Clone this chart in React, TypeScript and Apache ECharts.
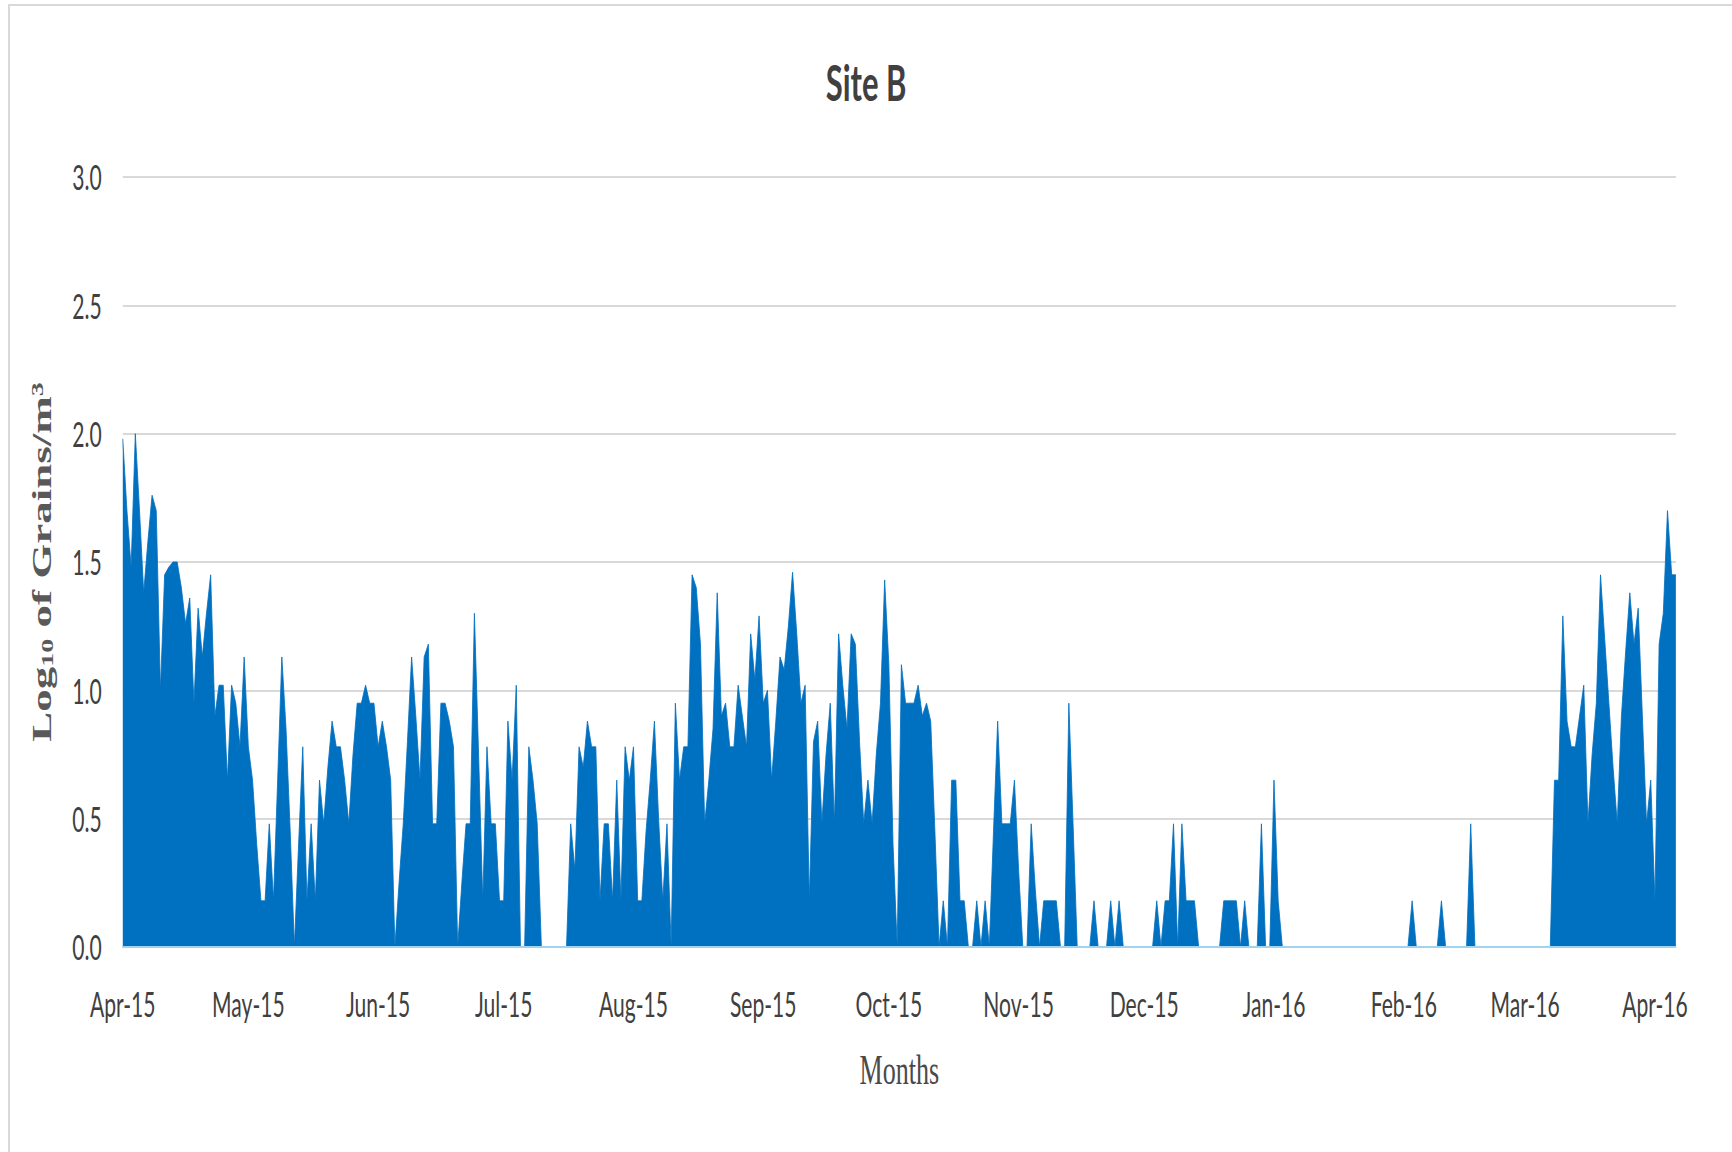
import React, { useEffect, useRef } from "react";
import * as echarts from "echarts";

// Daily log10(grains/m3) values, Site B, 1 Apr 2015 – 6 Apr 2016
const apr15 = [1.98, 1.70, 1.48, 2.00, 1.70, 1.38, 1.58, 1.76, 1.70, 1.00,
  1.45, 1.48, 1.50, 1.50, 1.40, 1.26, 1.36, 0.95, 1.32, 1.13,
  1.30, 1.45, 0.90, 1.02, 1.02, 0.65, 1.02, 0.95, 0.78, 1.13];
const may15 = [0.78, 0.65, 0.40, 0.18, 0.18, 0.48, 0.18, 0.65, 1.13, 0.85,
  0.45, 0, 0.40, 0.78, 0.18, 0.48, 0.18, 0.65, 0.48, 0.70,
  0.88, 0.78, 0.78, 0.65, 0.48, 0.75, 0.95, 0.95, 1.02, 0.95,
  0.95];
const jun15 = [0.78, 0.88, 0.78, 0.65, 0, 0.25, 0.48, 0.80, 1.13, 0.90,
  0.65, 1.13, 1.18, 0.48, 0.48, 0.95, 0.95, 0.88, 0.78, 0,
  0.25, 0.48, 0.48, 1.30, 0.75, 0.18, 0.78, 0.48, 0.48, 0.18];
const jul15 = [0.18, 0.88, 0.65, 1.02, 0, 0, 0.78, 0.65, 0.48, 0,
  0, 0, 0, 0, 0, 0, 0.48, 0.30, 0.78, 0.70,
  0.88, 0.78, 0.78, 0.18, 0.48, 0.48, 0.18, 0.65, 0.18, 0.78,
  0.65];
const aug15 = [0.78, 0.18, 0.18, 0.45, 0.65, 0.88, 0.50, 0.18, 0.48, 0,
  0.95, 0.65, 0.78, 0.78, 1.45, 1.40, 1.18, 0.48, 0.65, 0.85,
  1.38, 0.90, 0.95, 0.78, 0.78, 1.02, 0.90, 0.78, 1.22, 1.04,
  1.29];
const sep15 = [0.95, 1.00, 0.65, 0.88, 1.13, 1.08, 1.25, 1.46, 1.22, 0.95,
  1.02, 0.18, 0.80, 0.88, 0.48, 0.75, 0.95, 0.48, 1.22, 1.02,
  0.85, 1.22, 1.18, 0.80, 0.48, 0.65, 0.48, 0.75, 0.95, 1.43];
const oct15 = [1.10, 0.40, 0, 1.10, 0.95, 0.95, 0.95, 1.02, 0.90, 0.95,
  0.88, 0.45, 0, 0.18, 0, 0.65, 0.65, 0.18, 0.18, 0,
  0, 0.18, 0, 0.18, 0, 0.45, 0.88, 0.48, 0.48, 0.48,
  0.65];
const nov15 = [0.30, 0, 0, 0.48, 0.22, 0, 0.18, 0.18, 0.18, 0.18,
  0, 0, 0.95, 0.48, 0, 0, 0, 0, 0.18, 0,
  0, 0, 0.18, 0, 0.18, 0, 0, 0, 0, 0];
const dec15 = [0, 0, 0, 0.18, 0, 0.18, 0.18, 0.48, 0, 0.48,
  0.18, 0.18, 0.18, 0, 0, 0, 0, 0, 0, 0.18,
  0.18, 0.18, 0.18, 0, 0.18, 0, 0, 0, 0.48, 0,
  0];
const jan16 = [0.65, 0.18, 0, 0, 0, 0, 0, 0, 0, 0,
  0, 0, 0, 0, 0, 0, 0, 0, 0, 0,
  0, 0, 0, 0, 0, 0, 0, 0, 0, 0,
  0];
const feb16 = [0, 0, 0.18, 0, 0, 0, 0, 0, 0, 0.18,
  0, 0, 0, 0, 0, 0, 0.48, 0, 0, 0,
  0, 0, 0, 0, 0, 0, 0, 0, 0];
const mar16 = [0, 0, 0, 0, 0, 0, 0, 0.65, 0.65, 1.29,
  0.88, 0.78, 0.78, 0.90, 1.02, 0.48, 0.75, 0.95, 1.45, 1.20,
  0.95, 0.70, 0.48, 0.90, 1.15, 1.38, 1.18, 1.32, 0.90, 0.48,
  0.65];
const apr16 = [0.18, 1.18, 1.30, 1.70, 1.45, 1.45];

const monthLabels = ["Apr-15", "May-15", "Jun-15", "Jul-15", "Aug-15", "Sep-15",
  "Oct-15", "Nov-15", "Dec-15", "Jan-16", "Feb-16", "Mar-16", "Apr-16"];
const yTicks = [0, 0.5, 1.0, 1.5, 2.0, 2.5, 3.0];

const values = [...apr15, ...may15, ...jun15, ...jul15, ...aug15, ...sep15,
  ...oct15, ...nov15, ...dec15, ...jan16, ...feb16, ...mar16, ...apr16];

const categories: string[] = values.map((_, i) =>
  new Date(Date.UTC(2015, 3, 1 + i)).toISOString().slice(0, 10)
);
const labelAt: Record<number, string> = {};
{
  let m = 0;
  categories.forEach((c, i) => {
    if (c.endsWith("-01") && m < monthLabels.length) labelAt[i] = monthLabels[m++];
  });
}

const K = 0.62; // horizontal squeeze of the reference
const FULL_W = 1732;
const H = 1152;
const PRE_W = Math.round(FULL_W / K);

export default function App() {
  const ref = useRef<HTMLDivElement>(null);
  useEffect(() => {
    if (!ref.current) return;
    const chart = echarts.init(ref.current, null, { renderer: "svg" });
    const serif = "'Liberation Serif', 'DejaVu Serif', serif";
    const sans = "Lato, 'Open Sans', sans-serif";
    chart.setOption({
      animation: false,
      backgroundColor: "transparent",
      title: {
        text: "Site B",
        left: "center",
        top: 52,
        textStyle: { fontFamily: sans, fontSize: 50, fontWeight: "bold", color: "#404040" },
      },
      grid: { left: 198, right: 91, top: 177, bottom: 205, containLabel: false, outerBoundsMode: "none" },
      xAxis: {
        type: "category",
        data: categories,
        boundaryGap: false,
        z: 5,
        axisLine: { lineStyle: { color: "#9fd3ef", width: 2 } },
        axisTick: { show: false },
        splitLine: { show: false },
        axisLabel: {
          interval: (i: number) => labelAt[i] !== undefined,
          formatter: (_v: string, i: number) => labelAt[i] || "",
          margin: 40,
          fontFamily: sans,
          fontSize: 34,
          color: "#404040",
        },
        name: "Months",
        nameLocation: "middle",
        nameGap: 102,
        nameTextStyle: { fontFamily: serif, fontSize: 42, color: "#4a4a4a" },
      },
      yAxis: {
        type: "value",
        min: yTicks[0],
        max: yTicks[yTicks.length - 1],
        interval: 0.5,
        axisLine: { show: false },
        axisTick: { show: false },
        splitLine: { lineStyle: { color: "#d9d9d9", width: 2 } },
        axisLabel: {
          formatter: (v: number) => v.toFixed(1),
          margin: 34,
          fontFamily: sans,
          fontSize: 34,
          color: "#404040",
        },
        name: "Log{s|10} of Grains/m{p|3}",
        nameLocation: "middle",
        nameRotate: 90,
        nameGap: 108,
        nameTextStyle: {
          fontFamily: serif,
          fontWeight: "bold",
          fontSize: 45,
          color: "#595959",
          rich: {
            s: { fontFamily: serif, fontWeight: "bold", fontSize: 28, color: "#595959", verticalAlign: "bottom" },
            p: { fontFamily: serif, fontWeight: "bold", fontSize: 28, color: "#595959", verticalAlign: "top" },
          },
        },
      },
      series: [
        {
          type: "line",
          data: values,
          symbol: "none",
          showSymbol: false,
          lineStyle: { width: 1, color: "#0070C0" },
          itemStyle: { color: "#0070C0" },
          areaStyle: { color: "#0070C0", opacity: 1 },
        },
      ],
    });
    return () => chart.dispose();
  }, []);

  return (
    <div style={{ position: "absolute", left: 0, top: 0, width: FULL_W, height: H, overflow: "hidden", background: "#ffffff" }}>
      <div style={{ position: "absolute", left: 8, top: 4, width: 1740, height: 1160, border: "2px solid #d9d9d9", boxSizing: "border-box" }} />
      <div
        ref={ref}
        style={{ position: "absolute", left: 0, top: 0, width: PRE_W, height: H, transform: `scaleX(${K})`, transformOrigin: "0 0" }}
      />
    </div>
  );
}
